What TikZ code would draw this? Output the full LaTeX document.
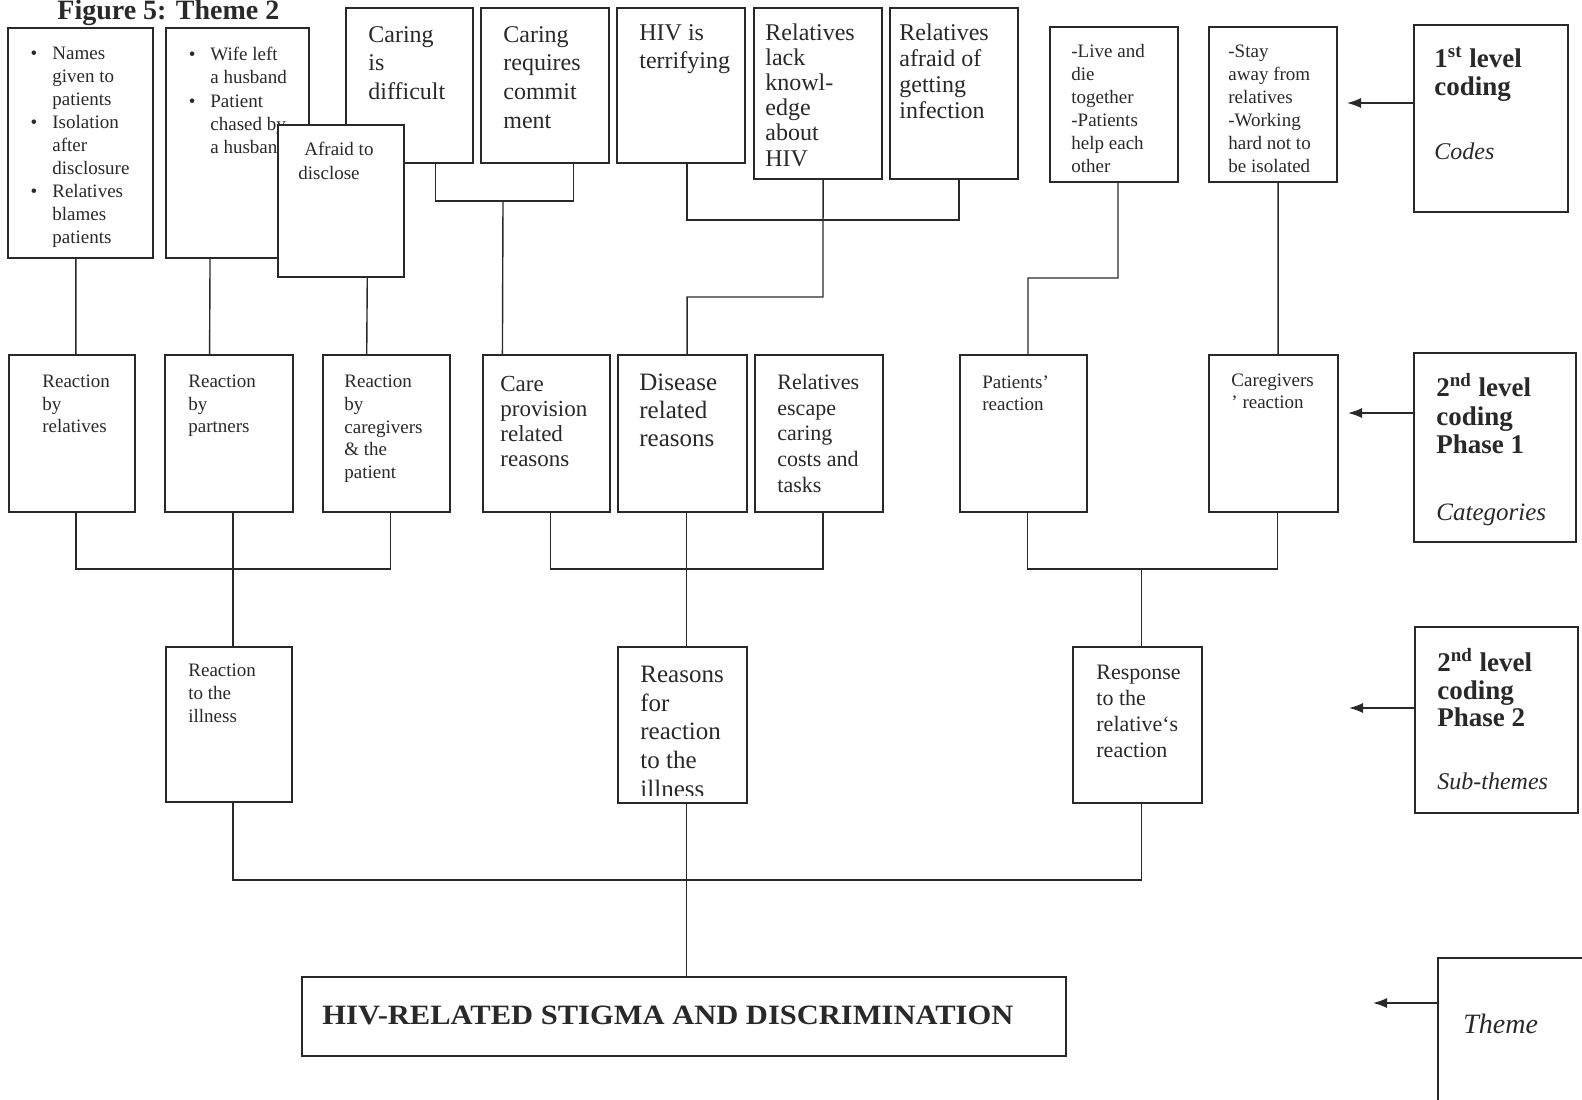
\documentclass[tikz,border=0pt]{standalone}
\usepackage{fontspec}
\usepackage{graphicx}
\setmainfont{Liberation Serif}
\usetikzlibrary{fit,calc,arrows.meta}
\definecolor{ink}{rgb}{0.16,0.16,0.16}
% a framed box spanning two corner points (pixel units, y downwards)
\newcommand\mkbox[5]{\node[box, fit={(#2,#3) (#4,#5)}] (#1) {};}
\newcommand\fs[2]{\fontsize{#1}{#2}\selectfont}
\newcommand\bu{\llap{\textbullet\hspace{7.5pt}}}

\begin{document}
\begin{tikzpicture}[x=0.5pt, y=-0.5pt,
  box/.style={draw=ink, line width=0.75pt, fill=white, inner sep=0pt},
  wire/.style={draw=ink, line width=0.7pt},
  arr/.style={wire, -{Latex[length=7pt,width=5pt]}},
  lines/.style={anchor=north west, inner sep=0pt, align=left, text=ink,
                execute at begin node=\strut},
  oneline/.style={anchor=base west, inner sep=0pt, text=ink},
]
\useasboundingbox (0,0) rectangle (1582,1099);

% ---------- heading ----------
\node[oneline, font=\fs{14}{16}\bfseries] (title) at (57,19) {Figure 5: Theme 2};

% ---------- first level: codes ----------
\mkbox{A}{8}{28}{153}{258}
\node[lines, font=\fs{9.5}{11.5}] (A-t) at (52,47)
  {\bu Names\\given to\\patients\\\bu Isolation\\after\\disclosure\\\bu Relatives\\blames\\patients};
\mkbox{B}{166}{28}{309}{258}
\node[lines, font=\fs{9.5}{11.6}] (B-t) at (210,47)
  {\bu Wife left\\a husband\\\bu Patient\\chased by\\a husband};
\mkbox{D}{346}{8}{473}{163}
\node[lines, font=\fs{12}{14.2}] (D-t) at (368,26) {Caring\\is\\difficult};
\mkbox{E}{481}{8}{609}{163}
\node[lines, font=\fs{12}{14.3}] (E-t) at (503,26) {Caring\\requires\\commit\\ment};
\mkbox{F}{617}{8}{745}{163}
\node[lines, font=\fs{12}{14}] (F-t) at (639,24) {HIV is\\terrifying};
\mkbox{G}{754}{8}{882}{179}
\node[lines, font=\fs{12}{12.6}] (G-t) at (765,23) {Relatives\\lack\\knowl-\\edge\\about\\HIV};
\mkbox{H}{890}{8}{1018}{179}
\node[lines, font=\fs{12}{13}] (H-t) at (899,23) {Relatives\\afraid of\\getting\\infection};
\mkbox{I}{1050}{27}{1178}{182}
\node[lines, font=\fs{9.5}{11.5}] (I-t) at (1071,44)
  {-Live and\\die\\together\\-Patients\\help each\\other};
\mkbox{J}{1209}{27}{1337}{182}
\node[lines, font=\fs{9.5}{11.5}] (J-t) at (1228,45)
  {-Stay\\away from\\relatives\\-Working\\hard not to\\be isolated};
% this box lies over its neighbours
\mkbox{C}{278}{125}{404}{277}
\node[lines, font=\fs{9.5}{12}] (C-t) at (298,142) {\hspace{3pt}Afraid to\\disclose};

% ---------- second level, phase 1: categories ----------
\mkbox{R1}{9}{355}{135}{512}
\node[lines, font=\fs{9.5}{11.2}] (R1-t) at (42,375) {Reaction\\by\\relatives};
\mkbox{R2}{165}{355}{293}{512}
\node[lines, font=\fs{9.5}{11.2}] (R2-t) at (188,375) {Reaction\\by\\partners};
\mkbox{R3}{323}{355}{450}{512}
\node[lines, font=\fs{9.5}{11.3}] (R3-t) at (344,375) {Reaction\\by\\caregivers\\\& the\\patient};
\mkbox{R4}{483}{355}{610}{512}
\node[lines, font=\fs{11.5}{12.4}] (R4-t) at (500,376) {Care\\provision\\related\\reasons};
\mkbox{R5}{618}{355}{747}{512}
\node[lines, font=\fs{12.5}{14}] (R5-t) at (639,374) {Disease\\related\\reasons};
\mkbox{R6}{755}{355}{883}{512}
\node[lines, font=\fs{11}{12.8}] (R6-t) at (777,374) {Relatives\\escape\\caring\\costs and\\tasks};
\mkbox{R7}{960}{355}{1087}{512}
\node[lines, font=\fs{9.5}{11}] (R7-t) at (982,375) {Patients'\\reaction};
\mkbox{R8}{1209}{355}{1338}{512}
\node[lines, font=\fs{9.5}{11}] (R8-t) at (1231,374) {Caregivers\\' reaction};

% ---------- second level, phase 2: sub-themes ----------
\mkbox{S1}{166}{647}{292}{802}
\node[lines, font=\fs{9.5}{11.3}] (S1-t) at (188,664) {Reaction\\to the\\illness};
\mkbox{S2}{618}{647}{747}{803}
\begin{scope}
  % the last line runs past the inner margin of the box
  \clip (618,647) rectangle (747,795);
  \node[lines, font=\fs{12.5}{14.3}] (S2-t) at (640,666) {Reasons\\for\\reaction\\to the\\illness};
\end{scope}
\mkbox{S3}{1073}{647}{1202}{803}
\node[lines, font=\fs{11}{13}] (S3-t) at (1096,665) {Response\\to the\\relative`s\\reaction};

% ---------- theme ----------
\mkbox{T}{302}{977}{1066}{1056}
\node[oneline, font=\fs{14}{16}\bfseries] (T-t) at (322,1024)
  {\scalebox{1.09}[1]{HIV-RELATED STIGMA AND DISCRIMINATION}};

% ---------- legend column ----------
\mkbox{L1}{1414}{25}{1568}{212}
\node[lines, font=\fs{13.5}{14}\bfseries] (L1-t) at (1434,46) {1\textsuperscript{st} level\\coding};
\node[oneline, font=\fs{12}{14}\itshape] (L1-i) at (1434,159) {Codes};
\mkbox{L2}{1414}{353}{1576}{542}
\node[lines, font=\fs{13.5}{14.1}\bfseries] (L2-t) at (1436,373) {2\textsuperscript{nd} level\\coding\\Phase 1};
\node[oneline, font=\fs{12.5}{14}\itshape] (L2-i) at (1436,520) {Categories};
\mkbox{L3}{1415}{627}{1578}{813}
\node[lines, font=\fs{13.5}{13.7}\bfseries] (L3-t) at (1437,648) {2\textsuperscript{nd} level\\coding\\Phase 2};
\node[oneline, font=\fs{12}{14}\itshape] (L3-i) at (1437,789) {Sub-themes};
\mkbox{L4}{1438}{958}{1620}{1130}
\node[oneline, font=\fs{14}{16}\itshape] (L4-i) at (1463,1033) {Theme};

% ---------- connectors: codes to categories ----------
\draw[wire] ($(A.south west)!0.468!(A.south east)$) -- ($(R1.north west)!0.53!(R1.north east)$);
\draw[wire] ($(B.south west)!0.31!(B.south east)$) -- ($(R2.north west)!0.35!(R2.north east)$);
\draw[wire] ($(C.south west)!0.706!(C.south east)$) -- ($(R3.north west)!0.346!(R3.north east)$);
\coordinate (de) at (503,201);
\draw[wire] ($(D.south west)!0.70!(D.south east)$) |- (de) -| ($(E.south west)!0.719!(E.south east)$);
\draw[wire] (de) -- ($(R4.north west)!0.157!(R4.north east)$);
\coordinate (fgh) at (823,220);
\draw[wire] ($(F.south west)!0.547!(F.south east)$) |- (fgh) -| ($(H.south west)!0.539!(H.south east)$);
\coordinate (gk) at (823,297);
\draw[wire] ($(G.south west)!0.539!(G.south east)$) -- (gk) -| ($(R5.north west)!0.535!(R5.north east)$);
\coordinate (ik) at (1118,278);
\draw[wire] ($(I.south west)!0.531!(I.south east)$) -- (ik) -| ($(R7.north west)!0.535!(R7.north east)$);
\draw[wire] ($(J.south west)!0.539!(J.south east)$) -- ($(R8.north west)!0.535!(R8.north east)$);

% ---------- connectors: categories to sub-themes ----------
\coordinate (k1) at (233,569);
\draw[wire] ([xshift=2pt]R1.south) |- (k1) -| ([xshift=2pt]R3.south);
\draw[wire] ([xshift=2pt]R2.south) -- ([xshift=2pt]S1.north);
\coordinate (k2) at (686.5,569);
\draw[wire] ([xshift=2pt]R4.south) |- (k2) -| ([xshift=2pt]R6.south);
\draw[wire] ([xshift=2pt]R5.south) -- ([xshift=2pt]S2.north);
\coordinate (k3) at (1141.5,569);
\draw[wire] ([xshift=2pt]R7.south) |- (k3) -| ([xshift=2pt]R8.south);
\draw[wire] (k3) -- ([xshift=2pt]S3.north);

% ---------- connectors: sub-themes to theme ----------
\coordinate (k4) at (686.5,880);
\draw[wire] ([xshift=2pt]S1.south) |- (k4) -| ([xshift=2pt]S3.south);
\draw[wire] ([xshift=2pt]S2.south) -- (k4);
\draw[wire] (k4) -- (k4 |- T.north);

% ---------- level pointers ----------
\coordinate (a1) at (1347,103);
\draw[arr] (L1.west |- a1) -- (a1);
\coordinate (a2) at (1348,413);
\draw[arr] (L2.west |- a2) -- (a2);
\coordinate (a3) at (1349,708);
\draw[arr] (L3.west |- a3) -- (a3);
\coordinate (a4) at (1373,1003);
\draw[arr] (L4.west |- a4) -- (a4);
\end{tikzpicture}
\end{document}
